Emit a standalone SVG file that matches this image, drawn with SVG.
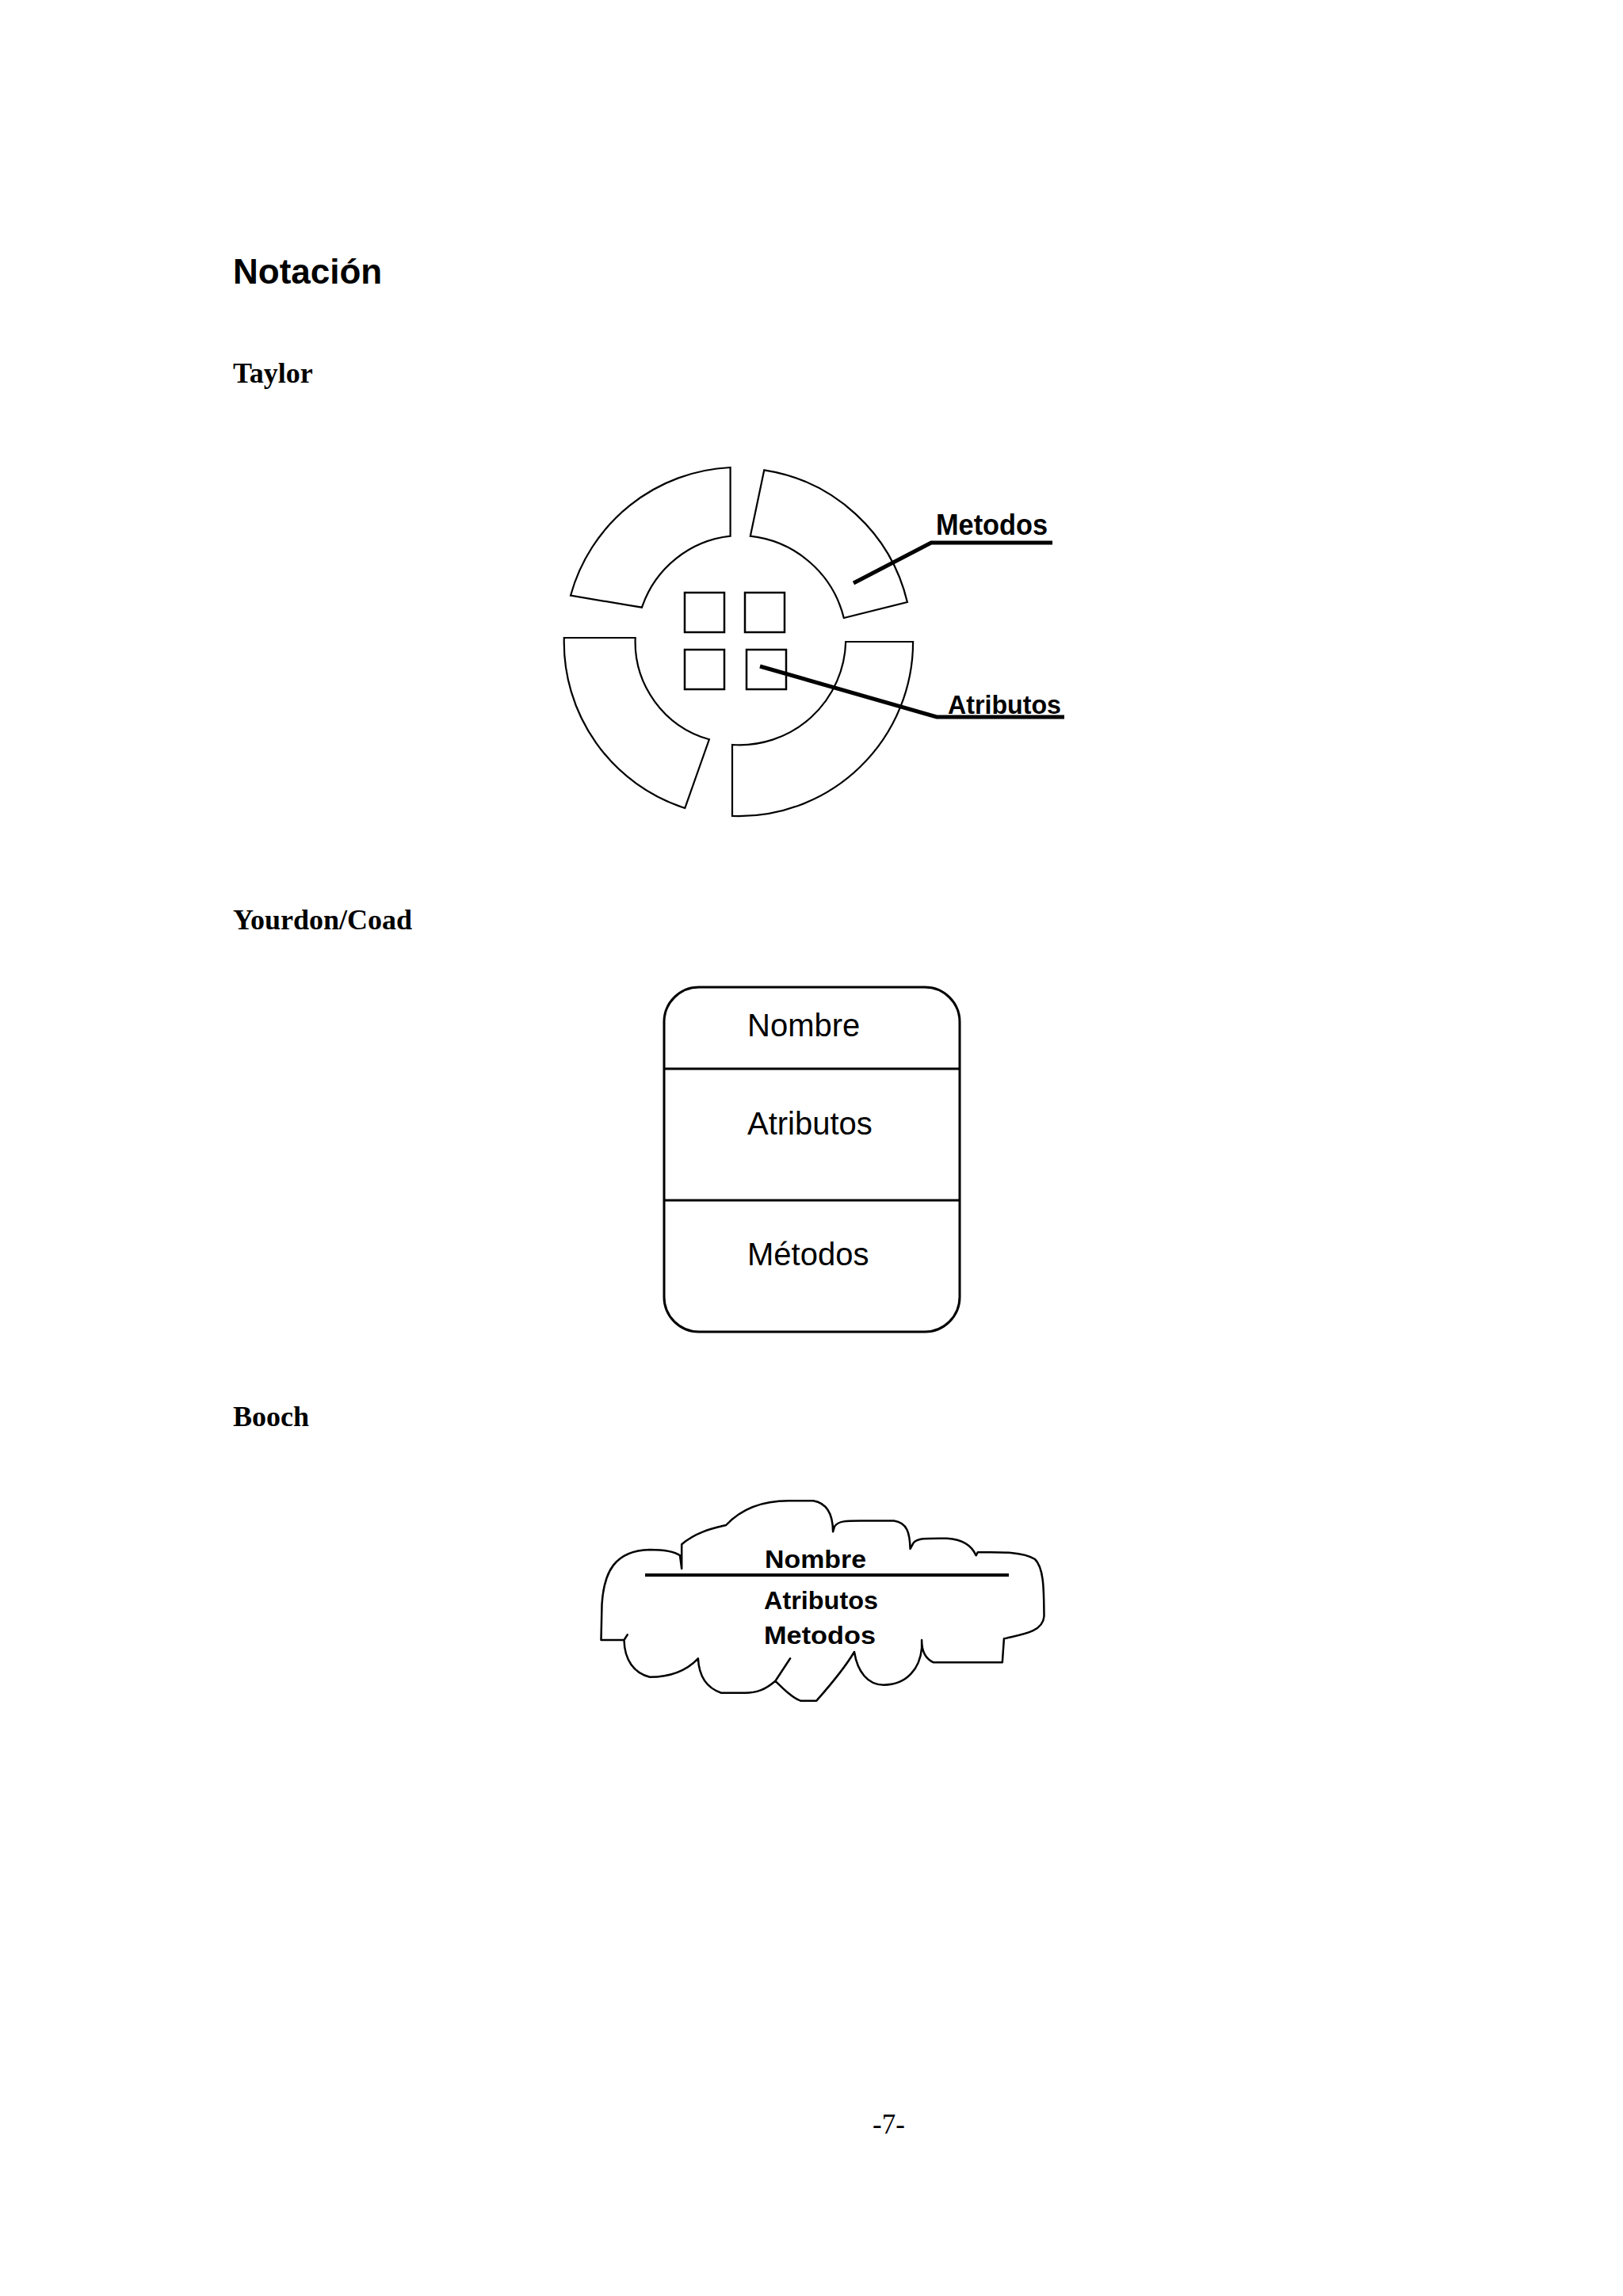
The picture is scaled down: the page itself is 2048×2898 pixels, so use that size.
<svg xmlns="http://www.w3.org/2000/svg" width="2048" height="2898" viewBox="0 0 2048 2898">
<style>
.h1{font-family:"Liberation Sans",Arial,sans-serif;font-weight:bold;font-size:44px;fill:#000}
.h2{font-family:"Liberation Serif","Times New Roman",serif;font-weight:bold;font-size:36px;fill:#000}
.seg{fill:#fff;stroke:#000;stroke-width:2.2;stroke-linejoin:miter}
.sq{fill:#fff;stroke:#000;stroke-width:2.5}
.lead{fill:none;stroke:#000;stroke-width:5;stroke-linecap:butt;stroke-linejoin:miter}
.px{font-family:"Liberation Sans",Arial,sans-serif;font-weight:bold;fill:#000}
.yc{font-family:"Liberation Sans",Arial,sans-serif;font-size:40px;fill:#000}
.box{fill:#fff;stroke:#000;stroke-width:3}
.cloud{fill:#fff;stroke:#000;stroke-width:2.5;stroke-linejoin:round;stroke-linecap:round}
.pg{font-family:"Liberation Serif","Times New Roman",serif;font-size:35px;fill:#000}
</style>
<rect width="2048" height="2898" fill="#fff"/>
<g id="headings">
<text class="h1" x="294" y="358">Notación</text>
<text class="h2" x="294" y="483">Taylor</text>
<text class="h2" x="294" y="1173" font-size="35">Yourdon/Coad</text>
<text class="h2" x="294" y="1800">Booch</text>
<text class="pg" x="1101" y="2693">-7-</text>
</g>
<g id="taylor">
<g id="taylor-methods">
<path class="seg" d="M 720,751.7 A 220 220 0 0 1 921.6,590 L 921.6,676.7 A 133 133 0 0 0 810,766.7 Z"/>
<path class="seg" d="M 964.3,593.3 A 220 220 0 0 1 1144.9,760 L 1064.8,780 A 137 137 0 0 0 946.8,676.7 Z"/>
<path class="seg" d="M 1067.2,810 L 1152.1,810 A 220 220 0 0 1 924,1030 L 924,940 A 134 134 0 0 0 1067.2,810 Z"/>
<path class="seg" d="M 711.8,805 L 801.7,805 A 128 128 0 0 0 894.9,933.3 L 864.3,1020 A 220 220 0 0 1 711.8,805 Z"/>
</g>
<g id="taylor-attributes">
<rect class="sq" x="864" y="748" width="50" height="50"/>
<rect class="sq" x="940" y="748" width="50" height="50"/>
<rect class="sq" x="864" y="820" width="50" height="50"/>
<rect class="sq" x="942" y="820" width="50" height="50"/>
</g>
<g id="taylor-labels">
<text class="px" x="1181" y="675" font-size="36" textLength="141" lengthAdjust="spacingAndGlyphs">Metodos</text>
<text class="px" x="1196" y="901" font-size="34" textLength="143" lengthAdjust="spacingAndGlyphs">Atributos</text>
</g>
</g>
<g id="connectors">
<polyline class="lead" points="1077,736 1175,685 1328,685"/>
<polyline class="lead" points="959,841 1182,905 1343,905"/>
</g>
<g id="yourdon">
<rect class="box" x="838" y="1246" width="373" height="435" rx="44" ry="44"/>
<line x1="838" y1="1349" x2="1211" y2="1349" stroke="#000" stroke-width="3"/>
<line x1="838" y1="1515" x2="1211" y2="1515" stroke="#000" stroke-width="3"/>
<text class="yc" x="943" y="1308">Nombre</text>
<text class="yc" x="943" y="1432">Atributos</text>
<text class="yc" x="943" y="1597">Métodos</text>
</g>
<g id="booch">
<path class="cloud" d="M 758.5,2070 L 759.5,2025 C 762,1985 775,1957 820,1956 C 840,1956 852,1959 858,1963.3 L 860.2,1980 L 860.2,1949.3 C 880,1932 905,1928 916.2,1925 C 935,1905 960,1894.3 995,1894.3 L 1026.2,1894.3 C 1042,1897 1051,1910 1051.1,1933.3 L 1053.1,1926.7 C 1058,1919 1070,1919.5 1090,1919.5 L 1128,1919.5 C 1145,1922 1148,1935 1148.6,1955 L 1152.7,1947.3 C 1158,1941 1170,1941.7 1195,1941.7 C 1215,1943 1226,1950 1231.6,1963.3 L 1233.7,1959.3 C 1260,1959 1290,1958 1306,1968 C 1318,1980 1317,2010 1317.5,2040 C 1316,2060 1290,2063 1266.9,2068.3 L 1264.8,2098.3 L 1178,2098.3 C 1168,2094 1163.1,2085 1163.1,2070 L 1163.1,2080 C 1161,2105 1145,2126.7 1115,2126.7 C 1095,2126.7 1082,2110 1078,2085 C 1065,2107 1045,2130 1030.3,2146.7 L 1010,2146.7 C 1000,2143 990,2133 978.4,2121.7 L 997.1,2093.3 L 978.4,2121.7 C 965,2133 955,2136.7 940,2136.7 L 910,2136.7 C 890,2130 882,2115 880.9,2093.3 C 865,2110 845,2116.7 820,2116.7 C 800,2112 788,2095 787.5,2070 L 791.7,2063.3 L 787.5,2070 Z"/>
<line x1="814" y1="1988" x2="1273" y2="1988" stroke="#000" stroke-width="4"/>
<text class="px" x="965" y="1979" font-size="31" textLength="128" lengthAdjust="spacingAndGlyphs">Nombre</text>
<text class="px" x="964" y="2031" font-size="31" textLength="144" lengthAdjust="spacingAndGlyphs">Atributos</text>
<text class="px" x="964" y="2075" font-size="31" textLength="141" lengthAdjust="spacingAndGlyphs">Metodos</text>
</g>
</svg>
